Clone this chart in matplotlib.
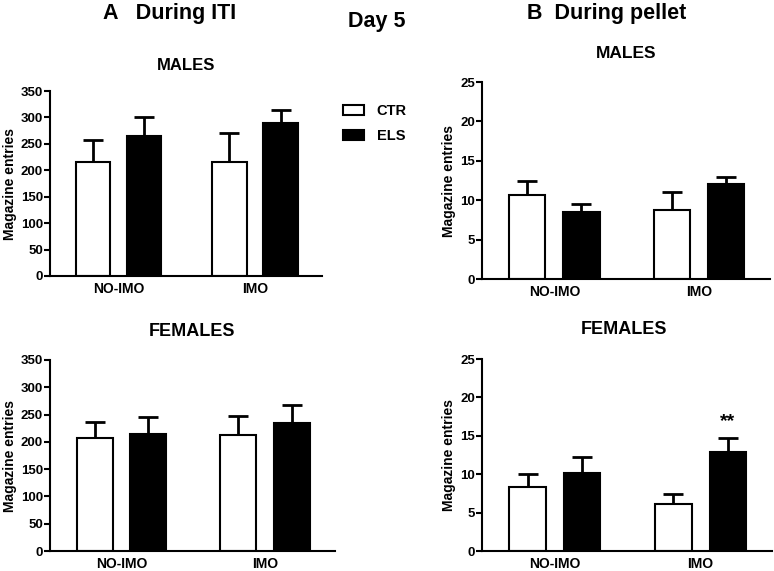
import matplotlib
matplotlib.use("Agg")
import matplotlib.pyplot as plt
import numpy as np

plt.rcParams['font.family'] = ['Liberation Sans', 'DejaVu Sans']
plt.rcParams['font.weight'] = 'bold'

groups = ["NO-IMO", "IMO"]
series = ["CTR", "ELS"]

iti_males_mean = {"CTR": [215, 215], "ELS": [265, 289]}
iti_males_err = {"CTR": [43, 55], "ELS": [36, 25]}
iti_females_mean = {"CTR": [207, 213], "ELS": [214, 235]}
iti_females_err = {"CTR": [29, 35], "ELS": [32, 33]}

pel_males_mean = {"CTR": [10.6, 8.8], "ELS": [8.5, 12.1]}
pel_males_err = {"CTR": [1.8, 2.2], "ELS": [1.0, 0.9]}
pel_females_mean = {"CTR": [8.3, 6.1], "ELS": [10.2, 12.9]}
pel_females_err = {"CTR": [1.7, 1.3], "ELS": [2.0, 1.8]}

W, H = 774, 571
fig = plt.figure(figsize=(W / 100, H / 100), dpi=100)


def ax_at(l, r, t, b):
    return fig.add_axes([l / W, 1 - b / H, (r - l) / W, (b - t) / H])


colors = {"CTR": "white", "ELS": "black"}
offsets = {"CTR": -0.187, "ELS": 0.187}


def draw(ax, means, errs, ymax, ystep, stars=None):
    x = np.arange(len(groups))
    handles = []
    for s in series:
        b = ax.bar(x + offsets[s], means[s], width=0.25, color=colors[s],
                   edgecolor="black", linewidth=1.5, label=s, zorder=2)
        ax.errorbar(x + offsets[s], means[s], yerr=[np.zeros(len(groups)), errs[s]],
                    fmt="none", ecolor="black", elinewidth=2, capsize=7,
                    capthick=2, zorder=1)
        handles.append(b)
    ax.set_xlim(-0.5, 1.49)
    ax.set_ylim(0, ymax)
    ax.set_yticks(np.arange(0, ymax + 0.001, ystep))
    ax.set_xticks(x)
    ax.set_xticklabels(groups, fontsize=10, fontweight="bold")
    ax.tick_params(axis="x", length=0, pad=4)
    ax.tick_params(axis="y", length=4, width=1.5, labelsize=9.5, pad=1)
    for lab in ax.get_yticklabels():
        lab.set_fontweight("bold")
    for sp in ["top", "right"]:
        ax.spines[sp].set_visible(False)
    for sp in ["left", "bottom"]:
        ax.spines[sp].set_linewidth(1.5)
    ax.set_ylabel("Magazine entries", fontsize=10, fontweight="bold", labelpad=3)
    if stars is not None:
        gi, s, txt = stars
        top = means[s][gi] + errs[s][gi]
        ax.text(gi + offsets[s], top + 1.0, txt, ha="center", va="bottom",
                fontsize=14, fontweight="bold")
    return handles


ax1 = ax_at(50, 322, 91, 276)
h = draw(ax1, iti_males_mean, iti_males_err, 350, 50)
ax2 = ax_at(482, 770, 82, 279)
draw(ax2, pel_males_mean, pel_males_err, 25, 5)
ax3 = ax_at(50, 335, 360, 551)
draw(ax3, iti_females_mean, iti_females_err, 350, 50)
ax4 = ax_at(482, 772, 359, 551)
draw(ax4, pel_females_mean, pel_females_err, 25, 5, stars=(1, "ELS", "**"))

fig.text(103 / W, 1 - 18.5 / H, "A   During ITI", fontsize=15.5, fontweight="bold",
         ha="left", va="baseline")
fig.text(377 / W, 1 - 27 / H, "Day 5", fontsize=15.5, fontweight="bold",
         ha="center", va="baseline")
fig.text(527 / W, 1 - 18.5 / H, "B  During pellet", fontsize=15.5, fontweight="bold",
         ha="left", va="baseline")
fig.text(186 / W, 1 - 65 / H, "MALES", fontsize=12, fontweight="bold",
         ha="center", va="center")
fig.text(626 / W, 1 - 54 / H, "MALES", fontsize=12.5, fontweight="bold",
         ha="center", va="center")
fig.text(192 / W, 1 - 331 / H, "FEMALES", fontsize=13, fontweight="bold",
         ha="center", va="center")
fig.text(624 / W, 1 - 329 / H, "FEMALES", fontsize=13, fontweight="bold",
         ha="center", va="center")

fig.legend(h, series, loc="upper left", bbox_to_anchor=(330 / W, 1 - 91 / H),
           frameon=False, handlelength=1.4, handleheight=0.75,
           labelspacing=0.75, prop={"weight": "bold", "size": 10.5},
           handletextpad=0.9)

fig.savefig("out.png", dpi=100)
